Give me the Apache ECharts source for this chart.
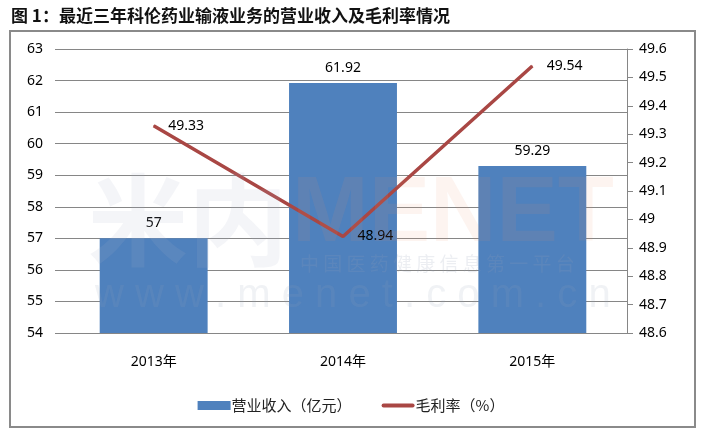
<!DOCTYPE html>
<html>
<head>
<meta charset="utf-8">
<script src="https://cdn.jsdelivr.net/npm/echarts@6/dist/echarts.min.js"></script>
<style>html,body{margin:0;padding:0;background:#fff;}#c{width:702px;height:441px;}</style>
</head>
<body>
<div id="c"></div>
<script>
var categories = ['2013年', '2014年', '2015年'];
var revenue = [57, 61.92, 59.29];
var grossMargin = [49.33, 48.94, 49.54];
var leftTicks = {min: 54, max: 63, interval: 1};
var rightTicks = {min: 48.6, max: 49.6, interval: 0.1};
var titleText = '图 1：最近三年科伦药业输液业务的营业收入及毛利率情况';
var seriesNames = ['营业收入（亿元）', '毛利率（%）'];

var FONT = '"Noto Sans", "Noto Sans CJK SC", sans-serif';
var chart = echarts.init(document.getElementById('c'), null, {renderer: 'canvas'});
chart.setOption({
  animation: false,
  backgroundColor: '#fff',
  title: {
    text: titleText, left: 6, top: 2,
    textStyle: {fontSize: 17, fontWeight: 'bold', color: '#111', fontFamily: '"Noto Sans CJK SC", sans-serif'}
  },
  graphic: [
    {type: 'rect', shape: {x: 10, y: 31, width: 685, height: 396}, style: {fill: 'none', stroke: '#8a8a8a', lineWidth: 2}, z: 0},
    {type: 'text', left: 88, top: 170, z: 100, style: {text: '米内', fontSize: 100, fontWeight: 'bold', fill: 'rgba(170,180,200,0.13)', fontFamily: '"Noto Sans CJK SC"'}},
    {type: 'text', left: 292, top: 170, z: 100, style: {text: 'MENET', fontSize: 92, fontWeight: 'bold', fill: 'rgba(240,150,110,0.10)', fontFamily: 'Liberation Sans'}},
    {type: 'text', left: 300, top: 254, z: 100, style: {text: '中 国 医 药 健 康 信 息 第 一 平 台', fontSize: 19, fill: 'rgba(150,160,185,0.18)', fontFamily: '"Noto Sans CJK SC"'}},
    {type: 'text', left: 95, top: 276, z: 100, style: {text: 'w w w . m e n e t . c o m . c n', fontSize: 40, fill: 'rgba(150,160,185,0.14)', fontFamily: 'Liberation Sans'}}
  ],
  grid: {left: 59, right: 75, top: 49, bottom: 108, containLabel: false},
  legend: {
    bottom: 23, left: 'center', itemGap: 30, itemWidth: 33, itemHeight: 9,
    textStyle: {fontSize: 15, color: '#222', fontFamily: '"Noto Sans CJK SC", sans-serif', padding: [0, 0, 0, -4]},
    data: [
      {name: seriesNames[0], icon: 'rect'},
      {name: seriesNames[1], icon: 'path://M2,0 L31,0 A2,2 0 0 1 31,4 L2,4 A2,2 0 0 1 2,0 Z', itemStyle: {color: '#A94744'}}
    ]
  },
  xAxis: {
    type: 'category', data: categories,
    axisLine: {lineStyle: {color: '#868686', width: 1}},
    axisTick: {show: false},
    axisLabel: {margin: 22, fontSize: 14, color: '#000', fontFamily: FONT}
  },
  yAxis: [
    {
      type: 'value', min: leftTicks.min, max: leftTicks.max, interval: leftTicks.interval,
      axisLine: {show: false},
      axisTick: {show: true, length: 4, lineStyle: {color: '#868686'}},
      splitLine: {lineStyle: {color: '#868686', width: 1}},
      axisLabel: {margin: 16, fontSize: 14, color: '#000', fontFamily: FONT}
    },
    {
      type: 'value', min: rightTicks.min, max: rightTicks.max, interval: rightTicks.interval,
      position: 'right',
      axisLine: {show: true, lineStyle: {color: '#868686', width: 1}},
      axisTick: {show: true, length: 6, lineStyle: {color: '#868686'}},
      splitLine: {show: false},
      axisLabel: {margin: 12, fontSize: 14, color: '#000', fontFamily: FONT,
        formatter: function (v) { return String(Math.round(v * 10) / 10); }}
    }
  ],
  series: [
    {
      name: seriesNames[0], type: 'bar', data: revenue, yAxisIndex: 0,
      barCategoryGap: '43%',
      itemStyle: {color: '#4F81BD'},
      label: {show: true, position: 'top', distance: 8, fontSize: 14, color: '#000', fontFamily: FONT},
      z: 2
    },
    {
      name: seriesNames[1], type: 'line', data: grossMargin, yAxisIndex: 1,
      symbol: 'circle', symbolSize: 1, showSymbol: true,
      lineStyle: {color: '#A94744', width: 3.5},
      itemStyle: {color: '#A94744'},
      label: {show: true, position: 'right', distance: 14, fontSize: 14, color: '#000', fontFamily: FONT},
      z: 3
    }
  ]
});
</script>
</body>
</html>
